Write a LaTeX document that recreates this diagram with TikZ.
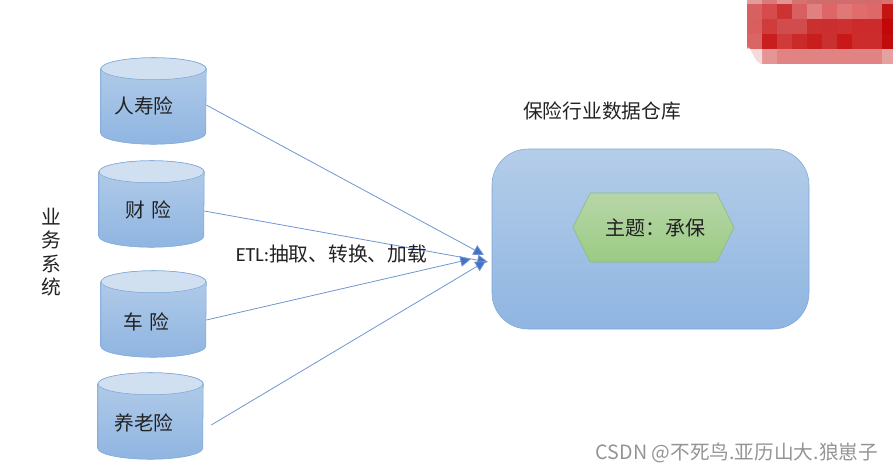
\documentclass[tikz,border=0pt]{standalone}
\usepackage{fontspec}
\setmainfont{Noto Sans CJK SC}
\newfontfamily\latinfont{Carlito}
\usetikzlibrary{shapes.geometric, shapes.symbols, calc}
\usetikzlibrary{arrows.meta}

\definecolor{lineblue}{HTML}{7CA6D8}
\definecolor{bluetop}{HTML}{B4CDE9}
\definecolor{bluebot}{HTML}{8FB5E1}
\definecolor{captop}{HTML}{D0E0F1}
\definecolor{arrowblue}{HTML}{4472C4}
\definecolor{wirecol}{HTML}{6F96D2}
\definecolor{greentop}{HTML}{B7D6A8}
\definecolor{greenbot}{HTML}{9BCB84}
\definecolor{greenline}{HTML}{8DB97A}
\definecolor{inktext}{HTML}{222222}

\tikzset{
  dbcyl/.style={rectangle, minimum width=78.75pt, minimum height=64.5pt, inner sep=0pt},
  dbbody/.style={draw=lineblue, top color=bluetop, bottom color=bluebot},
  dbcap/.style={draw=lineblue, fill=captop},
  label14/.style={font=\fontsize{14.8pt}{17pt}\selectfont, text=inktext, inner sep=0pt},
  wire/.style={draw=wirecol, line width=0.6pt, -{Triangle[length=8pt,width=8pt,fill=arrowblue]}},
}

% cuerpo y tapa del cilindro
\newcommand{\dbshape}[1]{
  \draw[dbbody] ($(#1.north west)+(0,11)$) -- ($(#1.south west)+(0,-11)$)
    arc (180:360:39.375pt and 8.25pt) -- ($(#1.north east)+(0,11)$)
    arc (0:180:39.375pt and 8.25pt) -- cycle;
  \draw[dbcap] ($(#1.north)+(0,11)$) ellipse (39.375pt and 8.25pt);
}

\begin{document}
\begin{tikzpicture}[x=0.75pt, y=-0.75pt]
  \useasboundingbox (0,0) rectangle (893,472);

  % Mosaico rojo
  \foreach \tint [count=\i from 0] in {E29C9C,D97A7A,E19494,D87272,D06C6C,D06C6C,D06C6C,D06C6C,D06C6C,D87070}{
    \definecolor{cellcol}{HTML}{\tint}
    \fill[cellcol] (747+15*\i,0) rectangle (762+15*\i,4);
  }
  \foreach \tint [count=\i from 0] in {D96060,D64C4C,CC3333,D96060,E08080,DF6666,E07878,E06C6C,DE6868,C41414}{
    \definecolor{cellcol}{HTML}{\tint}
    \fill[cellcol] (747+15*\i,4) rectangle (762+15*\i,19);
  }
  \foreach \tint [count=\i from 0] in {D95F5F,D03C3C,D14C4C,D14C4C,CB3030,CB2E2E,CC3030,CC2B2B,CC2B2B,C00808}{
    \definecolor{cellcol}{HTML}{\tint}
    \fill[cellcol] (747+15*\i,19) rectangle (762+15*\i,34);
  }
  \foreach \tint [count=\i from 0] in {D96565,C81E1E,CF3A3A,CB2A2A,C81E1E,CB3030,C81818,CC2C2C,CC2C2C,C00C0C}{
    \definecolor{cellcol}{HTML}{\tint}
    \fill[cellcol] (747+15*\i,34) rectangle (762+15*\i,49);
  }
  \foreach \tint [count=\i from 1] in {E59595,E28383,E28383,E28383,E28383,E28383,E28383,E28383,E5A0A0}{
    \definecolor{cellcol}{HTML}{\tint}
    \fill[cellcol] (747+15*\i,49) rectangle (762+15*\i,64);
  }
  \fill[red!75!black!15] (747,49) -- (762,49) -- (762,64) to[out=180,in=70] (747,49);

  % Cilindros
  \node[dbcyl] (life) at (153.5,101) {};
  \node[dbcyl] (prop) at (151.5,204) {};
  \node[dbcyl] (auto) at (153.5,314) {};
  \node[dbcyl] (pension) at (150.5,416) {};
  \dbshape{life}
  \dbshape{prop}
  \dbshape{auto}
  \dbshape{pension}

  \node[label14] (lifetxt) at (144,106) {人寿险};
  \node[label14] (proptxt) at (148.5,210) {财\,\,险};
  \node[label14] (autotxt) at (146.5,322) {车\,\,险};
  \node[label14] (pensiontxt) at (144,423) {养老险};

  % Sistemas
  \node[font=\fontsize{14.8pt}{17.6pt}\selectfont, text=inktext, align=center, inner sep=0pt] (bizsys) at (51,252) {业\\务\\系\\统};

  % Almacen
  \node[draw=lineblue, rounded corners=27pt, minimum width=237.75pt, minimum height=135pt,
    top color=bluetop, bottom color=bluebot, inner sep=0pt] (dw) at (650.5,239) {};
  \node[label14] (dwtxt) at (602,111) {保险行业数据仓库};

  % Tema
  \node[signal, signal to=east and west, signal pointer angle=127, draw=greenline,
    top color=greentop, bottom color=greenbot, minimum width=120.75pt, minimum height=51.75pt,
    inner sep=0pt, text=inktext, font=\fontsize{15pt}{17pt}\selectfont] (topic) at (653.5,227.5) {\hspace*{3pt}主题：承保};

  % Conexiones
  \coordinate (tipa) at (484,255);
  \coordinate (tipb) at (488,262);
  \coordinate (tipc) at (471,259);
  \coordinate (tipd) at (486,261);
  \draw[wire] ($(life.east)+(0,4)$) -- (tipa);
  \draw[wire] ($(prop.east)+(0,7)$) -- (tipb);
  \draw[wire] ($(auto.east)+(0,6)$) -- (tipc);
  \draw[wire] ($(pension.east)+(8,9)$) -- (tipd);

  \node[label14] (etltxt) at (331.5,254) {{\latinfont\fontsize{15pt}{17pt}\selectfont ETL:}抽取、转换、加载};

  % Marca de agua
  \node[font=\fontsize{14.75pt}{16pt}\selectfont, text=black!42, inner sep=0pt] (mark) at (737,453) {CSDN @不死鸟.亚历山大.狼崽子};
\end{tikzpicture}
\end{document}
